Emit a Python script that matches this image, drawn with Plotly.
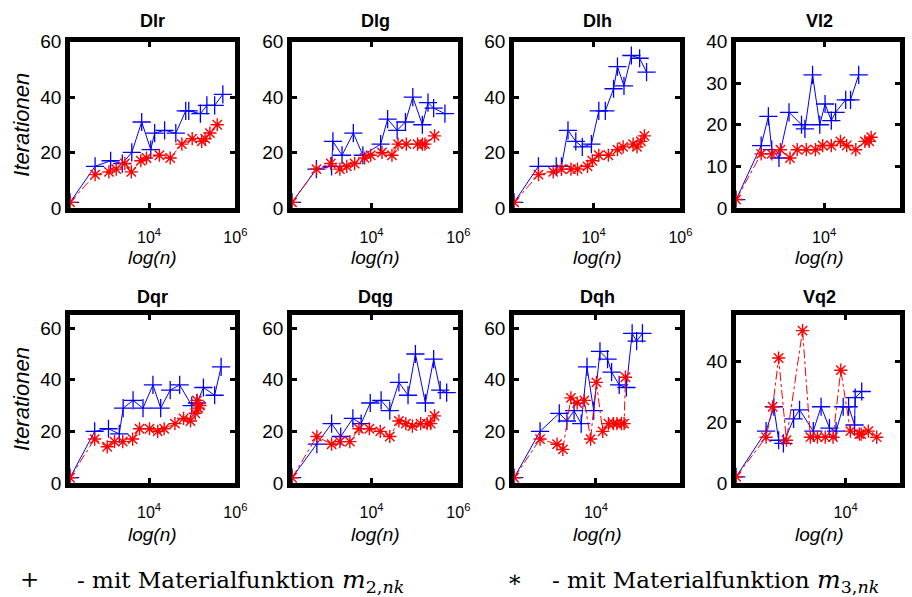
import numpy as np
import plotly.graph_objects as go

W, H = 912, 608

titles = ["Dlr", "Dlg", "Dlh", "Vl2", "Dqr", "Dqg", "Dqh", "Vq2"]

# ---- data: log10(n) positions and iteration counts ("+" = m_2,nk ; "*" = m_3,nk)
dlr_p_logn = [2.17, 2.75, 3.11, 3.38, 3.60, 3.83, 4.04, 4.13, 4.36, 4.62, 4.85, 4.92, 5.19, 5.34, 5.52, 5.71]
dlr_p_it = [2, 15, 17, 16, 20, 31, 21, 27, 28, 27, 35, 35, 34, 37, 37, 41]
dlr_s_logn = [2.17, 2.75, 3.07, 3.24, 3.44, 3.59, 3.81, 3.94, 4.24, 4.49, 4.76, 5.00, 5.22, 5.30, 5.41, 5.58]
dlr_s_it = [2, 12, 13, 14, 16, 13, 17, 18, 19, 18, 23, 25, 24, 25, 27, 30]

dlg_p_logn = [2.17, 2.73, 3.08, 3.11, 3.32, 3.58, 3.80, 4.21, 4.37, 4.59, 4.78, 4.95, 5.17, 5.30, 5.43, 5.69]
dlg_p_it = [2, 14, 15, 24, 19, 27, 19, 23, 32, 28, 31, 40, 30, 38, 36, 34]
dlg_s_logn = [2.17, 2.73, 3.06, 3.27, 3.43, 3.61, 3.84, 3.98, 4.24, 4.47, 4.61, 4.80, 5.06, 5.17, 5.23, 5.45]
dlg_s_it = [2, 14, 16, 14, 15, 16, 18, 19, 20, 19, 23, 23, 23, 23, 23, 26]

dlh_p_logn = [2.17, 2.73, 3.14, 3.26, 3.41, 3.59, 3.74, 3.95, 4.12, 4.27, 4.46, 4.55, 4.70, 4.87, 5.06, 5.22]
dlh_p_it = [2, 15, 15, 15, 28, 24, 22, 23, 35, 35, 43, 51, 44, 55, 54, 49]
dlh_s_logn = [2.17, 2.73, 3.07, 3.26, 3.48, 3.63, 3.86, 3.97, 4.12, 4.34, 4.55, 4.68, 4.91, 5.00, 5.09, 5.17]
dlh_s_it = [2, 12, 13, 14, 14, 14, 15, 17, 19, 19, 21, 22, 23, 22, 24, 26]

vl2_p_logn = [2.17, 2.69, 2.84, 2.91, 3.06, 3.27, 3.53, 3.60, 3.76, 3.91, 4.02, 4.15, 4.24, 4.45, 4.55, 4.72]
vl2_p_it = [2, 15, 22, 14, 12, 23, 20, 19, 32, 20, 25, 21, 23, 26, 26, 32]
vl2_s_logn = [2.17, 2.69, 2.91, 3.09, 3.29, 3.44, 3.63, 3.82, 3.97, 4.15, 4.34, 4.47, 4.66, 4.85, 4.94, 4.98]
vl2_s_it = [2, 13, 13, 14, 12, 14, 14, 14, 15, 15, 16, 15, 14, 16, 16, 17]

dqr_p_logn = [2.17, 2.74, 3.06, 3.31, 3.40, 3.63, 3.86, 4.09, 4.27, 4.49, 4.71, 4.99, 5.11, 5.26, 5.52, 5.67]
dqr_p_it = [2, 20, 21, 19, 29, 32, 29, 38, 29, 36, 38, 30, 31, 37, 34, 45]
dqr_s_logn = [2.17, 2.74, 3.03, 3.20, 3.39, 3.62, 3.78, 4.01, 4.20, 4.35, 4.60, 4.80, 4.96, 5.07, 5.11, 5.14, 5.18]
dqr_s_it = [2, 17, 14, 16, 16, 17, 21, 21, 20, 21, 23, 25, 24, 27, 32, 29, 30]

dqg_p_logn = [2.17, 2.74, 3.08, 3.29, 3.57, 3.76, 3.97, 4.22, 4.42, 4.63, 4.84, 5.01, 5.24, 5.43, 5.58, 5.73]
dqg_p_it = [2, 15, 23, 18, 25, 23, 31, 32, 28, 39, 34, 50, 31, 48, 36, 35]
dqg_s_logn = [2.17, 2.74, 3.08, 3.27, 3.50, 3.71, 3.95, 4.20, 4.42, 4.63, 4.79, 4.94, 5.13, 5.28, 5.36, 5.45]
dqg_s_it = [2, 18, 15, 16, 16, 21, 21, 20, 18, 24, 23, 22, 23, 23, 23, 26]

dqh_p_logn = [2.17, 2.75, 3.18, 3.35, 3.51, 3.67, 3.80, 3.95, 4.09, 4.26, 4.35, 4.52, 4.68, 4.81, 4.91, 5.04]
dqh_p_it = [2, 20, 27, 24, 28, 23, 45, 28, 51, 48, 43, 38, 37, 58, 55, 58]
dqh_s_logn = [2.17, 2.75, 3.13, 3.26, 3.44, 3.58, 3.74, 3.88, 4.01, 4.15, 4.28, 4.39, 4.47, 4.57, 4.63, 4.66]
dqh_s_it = [2, 17, 15, 13, 33, 31, 32, 17, 39, 20, 23, 23, 23, 23, 23, 41]

vq2_p_logn = [2.17, 2.67, 2.80, 2.88, 2.96, 3.13, 3.23, 3.46, 3.59, 3.73, 3.84, 3.96, 4.05, 4.15, 4.16, 4.27]
vq2_p_it = [2, 17, 25, 14, 13, 21, 24, 17, 25, 18, 17, 25, 25, 19, 28, 30]
vq2_s_logn = [2.17, 2.67, 2.78, 2.88, 3.01, 3.28, 3.41, 3.53, 3.66, 3.79, 3.92, 4.08, 4.23, 4.26, 4.38, 4.52]
vq2_s_it = [2, 15, 25, 41, 14, 50, 15, 15, 15, 15, 37, 17, 16, 16, 17, 15]

# axis limits (log10 n) and iteration limits
x_lo = 2.17
x_hi = [6.0, 6.0, 6.0, 5.58, 6.0, 6.0, 5.89, 4.91]
y_hi = [60, 60, 60, 40, 65, 65, 65, 55]
y_ticks = [[0, 20, 40, 60], [0, 20, 40, 60], [0, 20, 40, 60], [0, 10, 20, 30, 40],
           [0, 20, 40, 60], [0, 20, 40, 60], [0, 20, 40, 60], [0, 20, 40]]

panels = [
    (dlr_p_logn, dlr_p_it, dlr_s_logn, dlr_s_it),
    (dlg_p_logn, dlg_p_it, dlg_s_logn, dlg_s_it),
    (dlh_p_logn, dlh_p_it, dlh_s_logn, dlh_s_it),
    (vl2_p_logn, vl2_p_it, vl2_s_logn, vl2_s_it),
    (dqr_p_logn, dqr_p_it, dqr_s_logn, dqr_s_it),
    (dqg_p_logn, dqg_p_it, dqg_s_logn, dqg_s_it),
    (dqh_p_logn, dqh_p_it, dqh_s_logn, dqh_s_it),
    (vq2_p_logn, vq2_p_it, vq2_s_logn, vq2_s_it),
]

# ---- layout geometry, in pixels of the target picture; 4th column runs past the right edge
dom_left = [71, 296, 521, 746]
dom_right = [238.5, 464.5, 689.5, 912]
row_top = [39.3, 314.3]
row_bot = [208.3, 484.6]
title_y = [19.7, 296.7]
xlabel_y = [257.5, 535.5]

# the captured picture places the page slightly lower and squeezes it vertically
Y_OFF, Y_SCALE = 8.5, 0.97


def py(y):
    """target picture y (from top) -> paper fraction of this page"""
    return 1 - ((y - Y_OFF) / Y_SCALE) / H


SANS = "Liberation Sans, Arial, sans-serif"
SERIF = "DejaVu Serif, serif"

fig = go.Figure()
layout = {}
annotations = []

for i, (pl, pi, sl, si) in enumerate(panels):
    r, c = divmod(i, 4)
    sfx = "" if i == 0 else str(i + 1)
    xref, yref = "x" + sfx, "y" + sfx
    fig.add_trace(go.Scatter(
        x=10 ** np.array(pl), y=pi, mode="lines+markers", xaxis=xref, yaxis=yref,
        line=dict(color="rgb(0,0,255)", width=1),
        marker=dict(symbol="cross-thin-open", size=13, line=dict(color="rgb(0,0,255)", width=1.3)),
        showlegend=False, hoverinfo="skip"))
    fig.add_trace(go.Scatter(
        x=10 ** np.array(sl), y=si, mode="lines+markers", xaxis=xref, yaxis=yref,
        line=dict(color="rgb(255,0,0)", width=1, dash="dashdot"),
        marker=dict(symbol="asterisk-open", size=11, line=dict(color="rgb(255,0,0)", width=1.4)),
        showlegend=False, hoverinfo="skip"))

    xt = [1e4, 1e6] if x_hi[i] >= 6 else [1e4]
    xtt = ["10<sup>4</sup>", "10<sup>6</sup>"][:len(xt)]
    layout["xaxis" + sfx] = dict(
        domain=[dom_left[c] / W, dom_right[c] / W],
        anchor=yref, type="log", range=[x_lo, x_hi[i]],
        tickvals=xt, ticktext=xtt,
        showline=True, linewidth=5, linecolor="black", mirror="ticks",
        ticks="inside", ticklen=5, tickwidth=2.5, tickcolor="black",
        showgrid=False, zeroline=False,
        tickfont=dict(family=SANS, size=16, color="black"),
        ticklabelstandoff=11,
    )
    ya = dict(
        domain=[py(row_bot[r] - 1), py(row_top[r] + 1)],
        anchor=xref, range=[0, y_hi[i]], tickvals=y_ticks[i],
        showline=True, linewidth=5, linecolor="black", mirror="ticks",
        ticks="inside", ticklen=5, tickwidth=2.5, tickcolor="black",
        showgrid=False, zeroline=False,
        tickfont=dict(family=SANS, size=19, color="black"),
    )
    if c == 0:
        ya["title"] = dict(text="<i>Iterationen</i>", font=dict(family=SANS, size=22, color="black"), standoff=6)
    layout["yaxis" + sfx] = ya

    xc = (dom_left[c] + 84) / W
    annotations.append(dict(
        text="<b>%s</b>" % titles[i], xref="paper", yref="paper",
        x=xc, y=py(title_y[r]),
        xanchor="center", yanchor="middle", showarrow=False,
        font=dict(family=SANS, size=18, color="black")))
    annotations.append(dict(
        text="<i>log(n)</i>", xref="paper", yref="paper",
        x=xc, y=py(xlabel_y[r]),
        xanchor="center", yanchor="middle", showarrow=False,
        font=dict(family=SANS, size=19, color="black")))

# ---- legend line at the bottom
legend_sym = ["+", "\u2217"]
legend_txt = ["- mit Materialfunktion <span style='font-size:25px'><i>m</i><sub>2,<i>nk</i></sub></span>",
              "- mit Materialfunktion <span style='font-size:25px'><i>m</i><sub>3,<i>nk</i></sub></span>"]
sym_x = [30, 522]
txt_x = [76, 557]
for k in range(2):
    annotations.append(dict(text=legend_sym[k], xref="paper", yref="paper",
                            x=sym_x[k] / W, y=py(580), xanchor="center", yanchor="middle",
                            showarrow=False, font=dict(family=SERIF, size=23, color="black")))
    annotations.append(dict(text=legend_txt[k], xref="paper", yref="paper",
                            x=txt_x[k] / W, y=py(582), xanchor="left", yanchor="middle",
                            showarrow=False, font=dict(family=SERIF, size=23, color="black")))

fig.update_layout(
    width=W, height=H, autosize=False,
    margin=dict(l=0, r=0, t=0, b=0),
    paper_bgcolor="white", plot_bgcolor="white",
    annotations=annotations, showlegend=False,
    **layout)

fig.write_html("out.html")
